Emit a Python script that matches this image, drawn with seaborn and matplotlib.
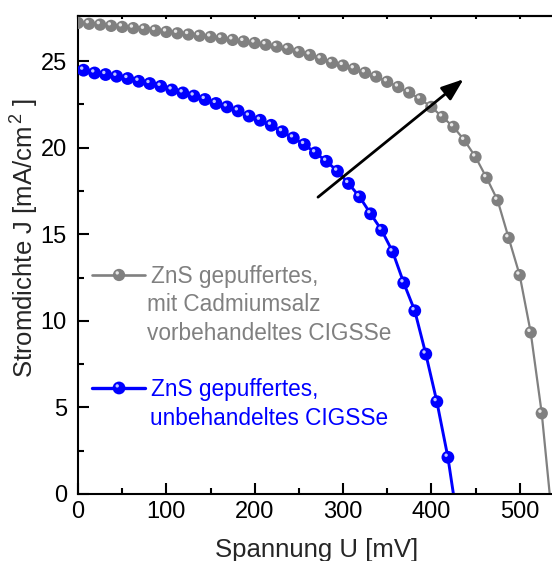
import matplotlib
matplotlib.use("Agg")
import matplotlib.pyplot as plt
import matplotlib.transforms as mtransforms
from matplotlib.lines import Line2D
import pandas as pd
import seaborn as sns

# J-V characteristics of two ZnS-buffered CIGSSe cells
# Cd-salt pretreated absorber (gray), V in mV, J in mA/cm^2
v_cd = [12.5 * k for k in range(43)]
j_cd = [27.20, 27.15, 27.10, 27.03, 26.97, 26.90, 26.83, 26.76, 26.68, 26.60,
        26.53, 26.46, 26.39, 26.31, 26.22, 26.13, 26.04, 25.94, 25.83, 25.70,
        25.52, 25.35, 25.12, 24.90, 24.74, 24.55, 24.32, 24.10, 23.80, 23.50,
        23.18, 22.80, 22.35, 21.77, 21.20, 20.42, 19.46, 18.26, 16.96, 14.79,
        12.64, 9.33, 4.66]
voc_cd = 534.0

# untreated absorber (blue)
v_un = [6.25 + 12.5 * k for k in range(34)]
j_un = [24.47, 24.31, 24.22, 24.12, 23.99, 23.83, 23.70, 23.54, 23.33, 23.16,
        22.98, 22.78, 22.55, 22.35, 22.12, 21.82, 21.58, 21.29, 20.92, 20.56,
        20.18, 19.70, 19.21, 18.64, 17.93, 17.16, 16.18, 15.23, 13.98, 12.19,
        10.58, 8.08, 5.33, 2.12]
voc_un = 425.0

labels = [["ZnS gepuffertes,", "mit Cadmiumsalz", "vorbehandeltes CIGSSe"],
          ["ZnS gepuffertes,", "unbehandeltes CIGSSe"]]
colors = ["#808080", "#0000ff"]
highlights = ["#e8e8e8", "#c0c6ff"]
line_widths = [1.6, 2.1]
marker_sizes = [78, 85]

x_ticks = [0, 100, 200, 300, 400, 500]
x_minor = [50, 150, 250, 350, 450]
y_ticks = [0, 5, 10, 15, 20, 25]
y_minor = [2.5, 7.5, 12.5, 17.5, 22.5]

sns.set_theme(style="ticks")
plt.rcParams["font.family"] = ["Liberation Sans", "DejaVu Sans"]
plt.rcParams["mathtext.fontset"] = "custom"
plt.rcParams["mathtext.rm"] = "Liberation Sans"
plt.rcParams["mathtext.it"] = "Liberation Sans:italic"
plt.rcParams["mathtext.bf"] = "Liberation Sans:bold"

fig = plt.figure(figsize=(5.52, 5.61), dpi=100)
ax = fig.add_axes([78 / 552, 67 / 561, 477 / 552, 478 / 561])

# offset of the specular spot on each sphere-like marker
spot = mtransforms.ScaledTranslation(-1.3 / 72, 1.5 / 72, fig.dpi_scale_trans)

series = [(v_cd, j_cd, voc_cd), (v_un, j_un, voc_un)]
for (v, j, voc), col, hl, lw, ms in zip(series, colors, highlights,
                                       line_widths, marker_sizes):
    df = pd.DataFrame({"U": v, "J": j})
    line_df = pd.concat([df, pd.DataFrame({"U": [voc], "J": [0.0]})],
                        ignore_index=True)
    sns.lineplot(data=line_df, x="U", y="J", sort=False, color=col,
                 lw=lw, ax=ax, zorder=2)
    sns.scatterplot(data=df, x="U", y="J", color=col, s=ms, edgecolor="none",
                    linewidth=0, ax=ax, zorder=3)
    ax.scatter(df["U"], df["J"], s=6, color=hl, edgecolor="none",
               transform=ax.transData + spot, zorder=4)

# arrow indicating the improvement after Cd pretreatment
arrow_start = (271.7, 17.14)
arrow_end = (436.5, 23.95)
ax.annotate("", xy=arrow_end, xytext=arrow_start,
            arrowprops=dict(arrowstyle="-|>,head_length=1.35,head_width=0.5",
                            mutation_scale=10, color="black", lw=2.0,
                            shrinkA=0, shrinkB=0),
            zorder=5)

# legend: symbol next to the first text line, further lines left aligned
handle_rows = [0.4582, 0.2218]
first_baseline = [0.4414, 0.2040]
indent = [[0.152, 0.144, 0.144], [0.152, 0.150]]
row_step = 0.0595
for yrow, yb, lines, xs, col, hl, lw, ms in zip(handle_rows, first_baseline,
                                                labels, indent, colors,
                                                highlights, line_widths,
                                                marker_sizes):
    ax.add_line(Line2D([0.029, 0.140], [yrow, yrow], color=col, lw=lw + 0.3,
                       transform=ax.transAxes, zorder=5))
    ax.scatter([0.086], [yrow], s=ms, color=col, edgecolor="none",
               transform=ax.transAxes, zorder=6)
    ax.scatter([0.086], [yrow], s=6, color=hl, edgecolor="none",
               transform=ax.transAxes + spot, zorder=7)
    for i, (txt, x0) in enumerate(zip(lines, xs)):
        ax.text(x0, yb - i * row_step, txt, transform=ax.transAxes,
                color=col, fontsize=16.3, ha="left", va="baseline")

ax.set_xlim(0, 540)
ax.set_ylim(0, 27.6)
ax.set_xticks(x_ticks)
ax.set_yticks(y_ticks)
ax.set_xticks(x_minor, minor=True)
ax.set_yticks(y_minor, minor=True)

ax.set_xlabel("Spannung U [mV]", fontsize=18.5, labelpad=11)
ax.set_ylabel("Stromdichte J [mA/cm$^{\\,2}$ ]", fontsize=18.5)
ax.yaxis.set_label_coords(-0.077, 0.535)

ax.tick_params(axis="both", which="major", direction="in", length=8,
               width=1.5, labelsize=17, color="black", labelcolor="black")
ax.tick_params(axis="both", which="minor", direction="in", length=4.5,
               width=1.5, color="black")
ax.tick_params(axis="x", which="both", top=False, pad=5)
ax.tick_params(axis="y", which="major", pad=8)
ax.tick_params(axis="y", which="both", right=False)

# short inward ticks along the top frame
top = ax.secondary_xaxis("top")
top.set_xticks(x_ticks + x_minor)
top.tick_params(direction="in", length=2.5, width=1.5, labeltop=False,
                color="black")
top.spines["top"].set_linewidth(1.5)
top.spines["top"].set_color("black")

for name, sp in ax.spines.items():
    sp.set_color("black")
    sp.set_linewidth(1.5)
ax.spines["right"].set_visible(False)
ax.grid(False)

fig.savefig("out.png", dpi=100)
